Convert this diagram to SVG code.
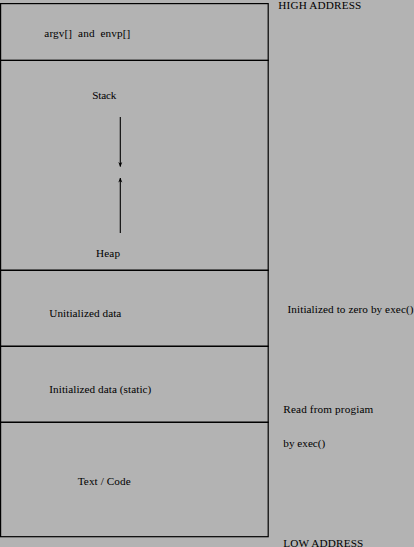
<svg xmlns="http://www.w3.org/2000/svg" width="414" height="547" viewBox="0 0 414 547" font-family="'Liberation Serif', 'DejaVu Serif', 'Times New Roman', serif">
<defs>
<style>
text{font-family:'Liberation Serif','DejaVu Serif','Times New Roman',serif;font-size:11.2px;fill:#000}
.box{fill:none;stroke:#000;stroke-width:1.2}
.arr{stroke:#000;stroke-width:1.1;fill:none}
</style>
<marker id="ah" viewBox="0 0 10 10" refX="9" refY="5" markerWidth="5" markerHeight="5" orient="auto" markerUnits="userSpaceOnUse">
<path d="M0,1 L10,5 L0,9 L3,5 Z" fill="#000"/>
</marker>
</defs>
<rect x="0" y="0" width="414" height="547" fill="#b3b3b3"/>
<g id="argv"><rect class="box" x="0.6" y="3.6" width="267.6" height="56.8"/><text x="44.3" y="36.5" textLength="86" xml:space="preserve">argv[]  and  envp[]</text></g>
<g id="stackheap"><rect class="box" x="0.6" y="60.4" width="267.6" height="209.9"/><text x="92.3" y="99.3" textLength="24">Stack</text><text x="96" y="256.5" textLength="24">Heap</text></g>
<g id="bss"><rect class="box" x="0.6" y="270.3" width="267.6" height="76"/><text x="49.3" y="317.3" textLength="72">Unitialized data</text></g>
<g id="data"><rect class="box" x="0.6" y="346.3" width="267.6" height="76"/><text x="49.3" y="393" textLength="102">Initialized data (static)</text></g>
<g id="text"><rect class="box" x="0.6" y="422.3" width="267.6" height="114.4"/><text x="77.7" y="484.5" textLength="53">Text / Code</text></g>
<g id="labels">
<text x="278.3" y="8.6" textLength="83">HIGH ADDRESS</text>
<text x="287.5" y="313" textLength="126">Initialized to zero by exec()</text>
<text x="283.3" y="412.8" textLength="90">Read from progiam</text>
<text x="283.3" y="446.6" textLength="42">by exec()</text>
<text x="283.3" y="546.5" textLength="80">LOW ADDRESS</text>
</g>
<g id="connectors">
<line class="arr" x1="120.3" y1="117" x2="120.3" y2="166.5" marker-end="url(#ah)"/>
<line class="arr" x1="120.3" y1="233" x2="120.3" y2="178" marker-end="url(#ah)"/>
</g>
</svg>
